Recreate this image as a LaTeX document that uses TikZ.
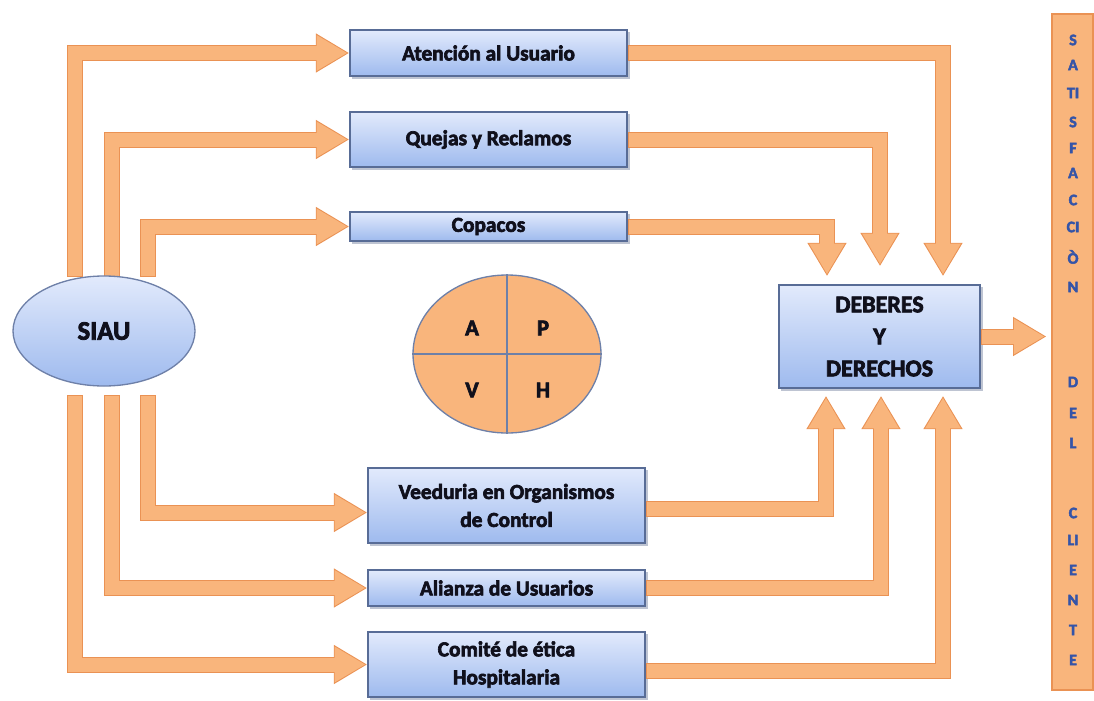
\documentclass[tikz,border=0pt]{standalone}
\usepackage{fontspec}
\setmainfont{Carlito}[BoldFeatures={FakeBold=3}]
\usetikzlibrary{arrows.meta,shapes.geometric,calc}

\definecolor{orfill}{RGB}{249,181,124}
\definecolor{oredge}{RGB}{234,146,84}
\definecolor{bluetop}{RGB}{226,234,252}
\definecolor{bluebot}{RGB}{158,186,238}
\definecolor{blueedge}{RGB}{88,108,150}
\definecolor{elledge}{RGB}{110,128,168}
\definecolor{bartext}{RGB}{52,84,168}
\definecolor{ink}{RGB}{16,16,28}
\definecolor{shade}{RGB}{190,196,210}

\begin{document}
\begin{tikzpicture}[x=0.75pt,y=-0.75pt,
  box/.style={rectangle, draw=blueedge, line width=1.1pt,
    top color=bluetop, bottom color=bluebot, inner sep=0pt,
    minimum width=207.75pt, align=center, text=ink,
    font=\bfseries\fontsize{16}{21}\selectfont},
  boxshadow/.style={fill=shade},
  fat/.style={preaction={draw=oredge, line width=12pt, shorten >=0pt, shorten <=0pt,
      -{Triangle[width=27.5pt,length=25pt]}},
    draw=orfill, line width=10.5pt, shorten >=1.4pt, shorten <=0.8pt,
    -{Triangle[width=25pt,length=23pt]}},
  barletter/.style={text=bartext, font=\bfseries\fontsize{12}{13}\selectfont, inner sep=0pt}
]
\useasboundingbox (0,0) rectangle (1094,700);

% --- satisfaction bar
\node[rectangle, draw=oredge, fill=orfill, line width=0.8pt, inner sep=0pt,
      minimum width=30.75pt, minimum height=507pt] (bar) at (1072.5,352) {};
\foreach \lt/\yy [count=\i] in {S/40, A/65, TI/93, S/122, F/148, A/173, C/200, CI/227,
    Ò/257, N/287, D/382, E/413, L/443, C/513, LI/540, E/570, N/600, T/630, E/660}
  \node[barletter] (l\i) at (1073,\yy) {\lt};

% --- shadows under the boxes
\fill[boxshadow] (352,32) rectangle (630,79);
\fill[boxshadow] (352,114) rectangle (630,170);
\fill[boxshadow] (352,214) rectangle (630,244);
\fill[boxshadow] (370,470) rectangle (648,546);
\fill[boxshadow] (370,572) rectangle (648,609);
\fill[boxshadow] (370,634) rectangle (648,700);
\fill[boxshadow] (781,287) rectangle (983,391);

% --- boxes
\node[box, minimum height=34.5pt]  (aten)    at (488.5,53)    {Atención al Usuario};
\node[box, minimum height=41.25pt] (quejas)  at (488.5,139.5) {Quejas y Reclamos};
\node[box, minimum height=21.75pt] (copacos) at (488.5,226.5) {Copacos};
\node[box, minimum height=56.25pt] (veed)    at (506.5,505.5) {Veeduria en Organismos\\de Control};
\node[box, minimum height=27pt]    (alianza) at (506.5,588)   {Alianza de Usuarios};
\node[box, minimum height=48.75pt] (comite)  at (506.5,664.5) {Comité de ética\\Hospitalaria};
\node[box, minimum width=150.75pt, minimum height=77.25pt,
      font=\bfseries\fontsize{18}{24}\selectfont] (deberes) at (879.5,336.5) {DEBERES\\Y\\DERECHOS};

% --- start points of the SIAU connectors
\coordinate (u1) at (75,277);
\coordinate (u2) at (112,277);
\coordinate (u3) at (148,277);
\coordinate (d1) at (75,395);
\coordinate (d2) at (112,395);
\coordinate (d3) at (148,395);

% --- SIAU towards the programmes
\draw[fat] (u1) |- (aten.west);
\draw[fat] (u2) |- (quejas.west);
\draw[fat] (u3) |- (copacos.west);
\draw[fat] (d3) |- ($(veed.west)+(0,7)$);
\draw[fat] (d2) |- (alianza.west);
\draw[fat] (d1) |- (comite.west);

% --- programmes towards duties and rights
\draw[fat] (aten.east)    -| ($(deberes.north)+(63.5,-8)$);
\draw[fat] (quejas.east)  -| ($(deberes.north)+(0.5,-18)$);
\draw[fat] (copacos.east) -| ($(deberes.north)+(-52.5,-8)$);
\draw[fat] ($(veed.east)+(0,3)$) -| ($(deberes.south)+(-53.5,7)$);
\draw[fat] (alianza.east) -| ($(deberes.south)+(1.5,7)$);
\draw[fat] ($(comite.east)+(0,6)$) -| ($(deberes.south)+(63.5,7)$);

% --- duties and rights towards satisfaction
\draw[fat] (deberes.east) -- ($(bar.west |- deberes.east)+(-5,0)$);

% --- SIAU
\node[ellipse, draw=elledge, line width=1pt, top color=bluetop, bottom color=bluebot,
      minimum width=136.5pt, minimum height=82.5pt, inner sep=0pt, text=ink,
      font=\bfseries\fontsize{20}{24}\selectfont] (siau) at (104,331) {SIAU};

% --- PHVA cycle
\node[ellipse, draw=elledge, line width=1pt, fill=orfill,
      minimum width=141pt, minimum height=118.5pt, inner sep=0pt] (phva) at (507,354) {};
\draw[elledge, line width=1pt] (phva.north) -- (phva.south);
\draw[elledge, line width=1pt] (phva.west) -- (phva.east);
\begin{scope}[every node/.style={text=ink, font=\bfseries\fontsize{17}{20}\selectfont}]
  \node (pa) at (472,328) {A};
  \node (pp) at (543,328) {P};
  \node (pv) at (472,390) {V};
  \node (ph) at (543,390) {H};
\end{scope}
\end{tikzpicture}
\end{document}
